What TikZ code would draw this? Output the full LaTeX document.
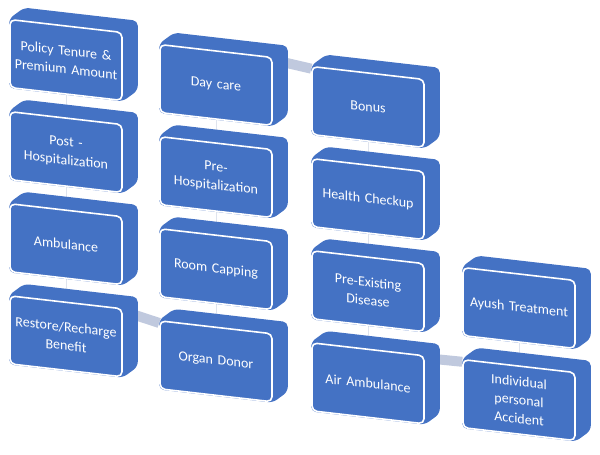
\documentclass[tikz,border=0pt]{standalone}
\usepackage{fontspec}
\setmainfont{Carlito}
\usepackage{tikz}
\usetikzlibrary{positioning, calc, backgrounds}
\definecolor{blockblue}{HTML}{4472C4}
\definecolor{linkgray}{RGB}{192,201,222}
\pgfdeclarelayer{links}
\pgfsetlayers{links,background,main}
\tikzstyle{block} = [rectangle, rounded corners=5pt, minimum width=112pt, minimum height=68pt, text width=106pt, inner sep=2pt, align=center, fill=blockblue, draw=white, line width=1.6pt, text=white, font=\fontsize{14}{18.5}\selectfont, yslant=-0.115]
\tikzstyle{link} = [line width=10pt, draw=linkgray]
\tikzstyle{vlink} = [line width=0.8pt, draw=linkgray!50]

\begin{document}
\begin{tikzpicture}[x=1pt, y=-1pt]
\useasboundingbox (0,0) rectangle (600,455);

% first column
\node (policy) [block] at (66,60) {Policy Tenure \&\\Premium Amount};
\node (posthosp) [block, below=22.5pt of policy] {Post -\\Hospitalization};
\node (ambulance) [block, below=22.5pt of posthosp] {Ambulance};
\node (restore) [block, below=22.5pt of ambulance] {Restore/Recharge\\Benefit};

% second column
\node (daycare) [block] at (216,85) {Day care};
\node (prehosp) [block, below=22.5pt of daycare] {Pre-\\Hospitalization};
\node (room) [block, below=22.5pt of prehosp] {Room Capping};
\node (organ) [block, below=22.5pt of room] {Organ Donor};

% third column
\node (bonus) [block] at (368,107) {Bonus};
\node (checkup) [block, below=22.5pt of bonus] {Health Checkup};
\node (preexist) [block, below=22.5pt of checkup] {Pre-Existing\\Disease};
\node (airamb) [block, below=22.5pt of preexist] {Air Ambulance};

% fourth column
\node (ayush) [block] at (519,308) {Ayush Treatment};
\node (accident) [block, below=22.5pt of ayush] {Individual\\personal\\Accident};

% depth of the blocks
\begin{scope}[on background layer]
\foreach \b in {policy, posthosp, ambulance, restore, daycare, prehosp, room, organ, bonus, checkup, preexist, airamb, ayush, accident} {
  \fill [blockblue, rounded corners=5pt] (\b.north west) -- ($(\b.north west)+(15,-11)$) -- ($(\b.north east)+(15,-11)$) -- ($(\b.south east)+(15,-11)$) -- (\b.south east) -- (\b.south west) -- cycle;
}
\end{scope}

\begin{pgfonlayer}{links}
\draw [vlink] (policy) -- (posthosp);
\draw [vlink] (posthosp) -- (ambulance);
\draw [vlink] (ambulance) -- (restore);
\draw [link] ([yshift=-3pt]restore.north east) -- ([yshift=-3pt]organ.north west);
\draw [vlink] (organ) -- (room);
\draw [vlink] (room) -- (prehosp);
\draw [vlink] (prehosp) -- (daycare);
\draw [link] ([yshift=-3pt]daycare.north east) -- ([yshift=-3pt]bonus.north west);
\draw [vlink] (bonus) -- (checkup);
\draw [vlink] (checkup) -- (preexist);
\draw [vlink] (preexist) -- (airamb);
\draw [link] ([yshift=-3pt]airamb.north east) -- ([yshift=-3pt]accident.north west);
\draw [vlink] (accident) -- (ayush);
\end{pgfonlayer}

\end{tikzpicture}
\end{document}
